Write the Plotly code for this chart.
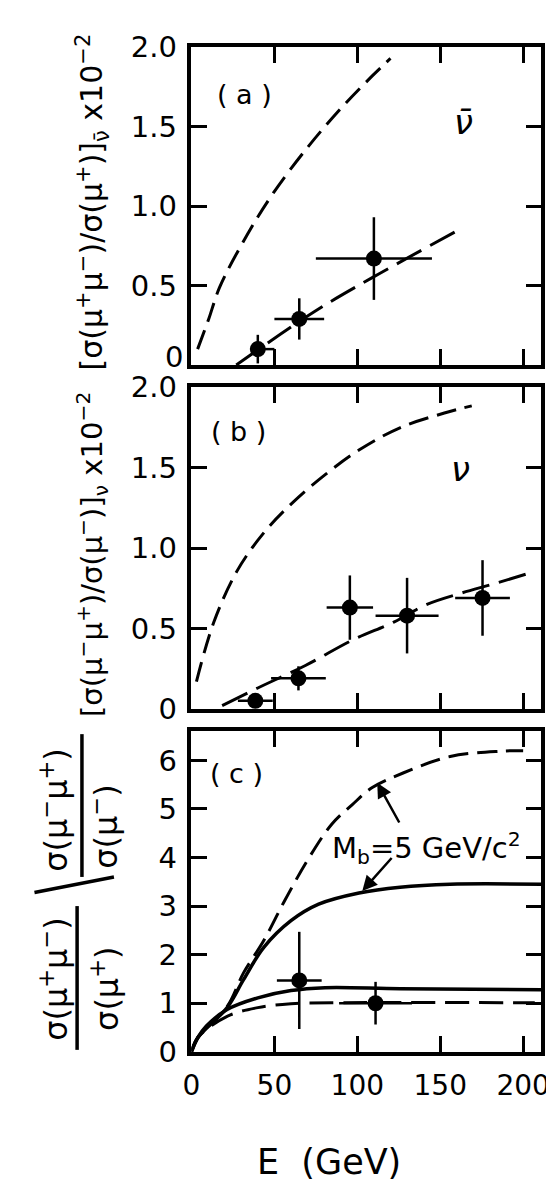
import plotly.graph_objects as go

# ---- panel (a): antineutrino ----
a_E = [40, 65, 110]
a_R = [0.10, 0.29, 0.67]
a_dE_lo = [0, 15, 35]
a_dE_hi = [10, 15, 35]
a_dR = [0.09, 0.13, 0.26]

a_up_E = [3.7, 10.4, 17, 33.6, 49.5, 70, 90.5, 109, 120]
a_up_R = [0.10, 0.29, 0.49, 0.82, 1.085, 1.37, 1.62, 1.82, 1.93]
a_lo_E = [27, 74, 109, 161]
a_lo_R = [0.0, 0.335, 0.55, 0.85]

# ---- panel (b): neutrino ----
b_E = [38.5, 64.5, 95.5, 130, 175.5]
b_R = [0.05, 0.19, 0.63, 0.58, 0.69]
b_dE = [10.5, 16.5, 14, 19, 16.5]
b_dR = [0.03, 0.075, 0.2, 0.235, 0.235]

b_up_E = [3, 13.5, 27.6, 44, 60.7, 81, 101, 126, 152.5, 169]
b_up_R = [0.17, 0.54, 0.86, 1.10, 1.28, 1.46, 1.61, 1.75, 1.84, 1.885]
b_lo_E = [18.5, 40, 68.7, 97.5, 122, 142, 162.6, 183, 205.5]
b_lo_R = [0.02, 0.13, 0.27, 0.43, 0.54, 0.65, 0.72, 0.78, 0.85]

# ---- panel (c): ratio of ratios ----
c_E = [65, 111]
c_R = [1.47, 1.0]
c_dE = [13.5, 22]
c_dR = [1.0, 0.44]

c_dup_E = [0, 4, 21.5, 31.3, 43.6, 56, 70.6, 84.7, 97, 109, 127.6, 156, 187, 200]
c_dup_R = [0, 0.3, 0.93, 1.62, 2.29, 3.1, 3.98, 4.69, 5.09, 5.44, 5.74, 6.08, 6.19, 6.2]
c_sup_E = [0, 4, 21.5, 31.3, 43.6, 60, 76.7, 101, 125.8, 156, 211]
c_sup_R = [0, 0.3, 0.91, 1.48, 2.15, 2.70, 3.04, 3.27, 3.39, 3.45, 3.45]
c_slo_E = [0, 4, 9, 21.5, 40, 60, 80.5, 125.8, 211]
c_slo_R = [0, 0.3, 0.53, 0.87, 1.11, 1.26, 1.32, 1.30, 1.28]
c_dlo_E = [0, 4, 21.5, 40, 60, 84.7, 207]
c_dlo_R = [0, 0.3, 0.73, 0.91, 0.99, 1.01, 1.01]

W, H = 554, 1190
FONT = "DejaVu Sans"


def px(x):
    return x / W


def py(y):
    return 1 - y / H


fig = go.Figure()


def curve(E, R, ax, dash, width=3):
    fig.add_trace(go.Scatter(x=E, y=R, mode="lines", xaxis="x" + ax, yaxis="y" + ax,
                             line=dict(color="black", width=width, dash=dash, shape="spline"),
                             showlegend=False, hoverinfo="skip"))


def points(E, R, dEl, dEh, dRl, dRh, ax):
    fig.add_trace(go.Scatter(x=E, y=R, mode="markers", xaxis="x" + ax, yaxis="y" + ax,
                             marker=dict(color="black", size=16),
                             error_x=dict(type="data", symmetric=False, array=dEh, arrayminus=dEl,
                                          color="black", thickness=2.5, width=0),
                             error_y=dict(type="data", symmetric=False, array=dRh, arrayminus=dRl,
                                          color="black", thickness=2.5, width=0),
                             showlegend=False))


curve(a_up_E, a_up_R, "", "20px,9px")
curve(a_lo_E, a_lo_R, "", "28px,10px")
points(a_E, a_R, a_dE_lo, a_dE_hi, a_dR, a_dR, "")

curve(b_up_E, b_up_R, "2", "20px,9px")
curve(b_lo_E, b_lo_R, "2", "28px,10px")
points(b_E, b_R, b_dE, b_dE, b_dR, b_dR, "2")

curve(c_dup_E, c_dup_R, "3", "20px,9px")
curve(c_sup_E, c_sup_R, "3", "solid", 3.5)
curve(c_slo_E, c_slo_R, "3", "solid", 3.5)
curve(c_dlo_E, c_dlo_R, "3", "24px,10px")
points(c_E, c_R, c_dE, c_dE, c_dR, c_dR, "3")

xdom = [px(180), px(541)]
ax_common = dict(showline=True, linecolor="black", linewidth=3.5, mirror="ticks",
                 ticks="inside", ticklen=16, tickwidth=3, tickcolor="black",
                 showgrid=False, zeroline=False, fixedrange=True,
                 tickfont=dict(family=FONT, size=29, color="black"))

xr = [0, 211]
fig.update_layout(
    width=W, height=H,
    margin=dict(l=0, r=0, t=0, b=0),
    paper_bgcolor="white", plot_bgcolor="white",
    font=dict(family=FONT, color="black"),
    showlegend=False,
    xaxis=dict(ax_common, domain=xdom, range=xr, tickvals=[50, 100, 150, 200],
               showticklabels=False, anchor="y"),
    # the "0" of panel (a) sits a little above its tick, drawn as a note below
    yaxis=dict(ax_common, domain=[py(350), py(23)], range=[0, 2.0],
               tickvals=[0, 0.5, 1.0, 1.5, 2.0], ticktext=["", "0.5", "1.0", "1.5", "2.0"],
               ticklabelstandoff=5, anchor="x"),
    xaxis2=dict(ax_common, domain=xdom, range=xr, tickvals=[50, 100, 150, 200],
                showticklabels=False, anchor="y2"),
    yaxis2=dict(ax_common, domain=[py(704), py(373)], range=[0, 2.0],
                tickvals=[0, 0.5, 1.0, 1.5, 2.0], ticktext=["0", "0.5", "1.0", "1.5", "2.0"],
                ticklabelstandoff=5, anchor="x2"),
    xaxis3=dict(ax_common, domain=xdom, range=xr, tickvals=[0, 50, 100, 150, 200],
                ticktext=["0", "50", "100", "150", "200"], ticklabelstandoff=6, anchor="y3",
                tickfont=dict(family=FONT, size=28, color="black")),
    yaxis3=dict(ax_common, domain=[py(1057), py(727)], range=[0, 6.6],
                tickvals=[0, 1, 2, 3, 4, 5, 6], ticklabelstandoff=5, anchor="x3"),
)

ann = []


def txt(x, y, s, size=26, angle=0, xanchor="center"):
    ann.append(dict(x=px(x), y=py(y), xref="paper", yref="paper", text=s, showarrow=False,
                    textangle=angle, xanchor=xanchor, yanchor="middle",
                    font=dict(family=FONT, size=size, color="black")))


txt(173, 342, "0", 29, xanchor="right")

txt(235, 72, "( a )", 27)
txt(228, 418, "( b )", 27)
txt(226, 770, "( c )", 27)
txt(461, 100, "<i>ν̄</i>", 34)
txt(458, 457, "<i>ν</i>", 34)

txt(78, 182, "[σ(μ<sup>+</sup>μ<sup>−</sup>)/σ(μ<sup>+</sup>)]<sub>ν̄</sub> x10<sup>−2</sup>", 30, -90)
txt(78, 545, "[σ(μ<sup>−</sup>μ<sup>+</sup>)/σ(μ<sup>−</sup>)]<sub>ν</sub> x10<sup>−2</sup>", 29, -90)

txt(38, 982, "σ(μ<sup>+</sup>μ<sup>−</sup>)", 32, -90)
txt(90, 992, "σ(μ<sup>+</sup>)", 32, -90)
txt(38, 808, "σ(μ<sup>−</sup>μ<sup>+</sup>)", 32, -90)
txt(90, 825, "σ(μ<sup>−</sup>)", 32, -90)

txt(322, 1170, "E  (GeV)", 35)

ann.append(dict(x=142, y=4.2, xref="x3", yref="y3", text="M<sub>b</sub>=5 GeV/c<sup>2</sup>",
                showarrow=False, font=dict(family=FONT, size=29, color="black")))
ann.append(dict(x=112, y=5.54, ax=125.8, ay=4.69, xref="x3", yref="y3", axref="x3", ayref="y3",
                text="", showarrow=True, arrowhead=2, arrowsize=1.2, arrowwidth=2.5, arrowcolor="black"))
ann.append(dict(x=103, y=3.31, ax=121.5, ay=4.02, xref="x3", yref="y3", axref="x3", ayref="y3",
                text="", showarrow=True, arrowhead=2, arrowsize=1.2, arrowwidth=2.5, arrowcolor="black"))
fig.update_layout(annotations=ann)

shp = [
    dict(type="line", xref="paper", yref="paper", x0=px(62), x1=px(62), y0=py(907), y1=py(1055),
         line=dict(color="black", width=3.5)),
    dict(type="line", xref="paper", yref="paper", x0=px(67), x1=px(67), y0=py(730), y1=py(877),
         line=dict(color="black", width=3.5)),
    dict(type="line", xref="paper", yref="paper", x0=px(18), x1=px(100), y0=py(893), y1=py(877),
         line=dict(color="black", width=3.5)),
]
fig.update_layout(shapes=shp)

fig.write_html("out.html")
